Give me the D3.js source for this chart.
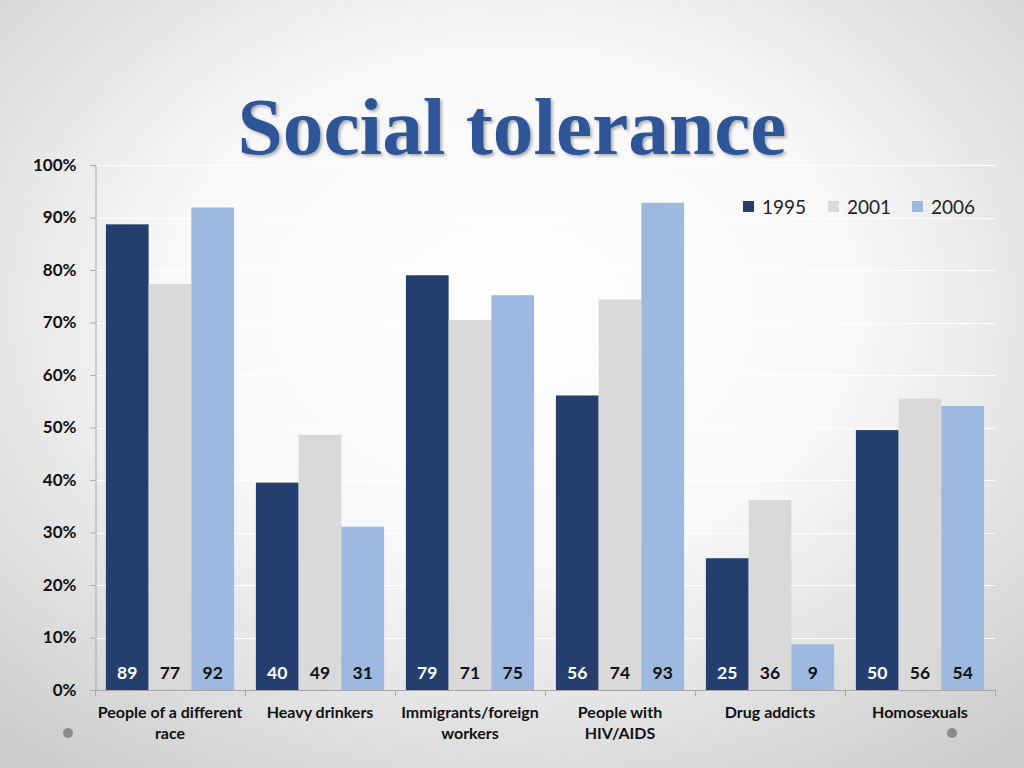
<!DOCTYPE html>
<html>
<head>
<meta charset="utf-8">
<script src="https://cdn.jsdelivr.net/npm/d3@7"></script>
<style>
  html, body { margin: 0; padding: 0; }
  body { width: 1024px; height: 768px; overflow: hidden; }
</style>
</head>
<body>
<svg id="chart" width="1024" height="768"></svg>
<script>
// ---- data ----
const categories = [
  ["People of a different", "race"],
  ["Heavy drinkers"],
  ["Immigrants/foreign", "workers"],
  ["People with", "HIV/AIDS"],
  ["Drug addicts"],
  ["Homosexuals"]
];
const seriesNames = ["1995", "2001", "2006"];
const values1995 = [88.7, 39.5, 79.0, 56.1, 25.1, 49.5];
const values2001 = [77.3, 48.6, 70.5, 74.4, 36.2, 55.5];
const values2006 = [91.9, 31.1, 75.2, 92.8, 8.7, 54.1];
const seriesColors = ["#243F6E", "#D9D9D9", "#9DB9E0"];
const labelColors = ["#FFFFFF", "#111111", "#111111"];
const yTicks = [0, 10, 20, 30, 40, 50, 60, 70, 80, 90, 100];
const titleText = "Social tolerance";

const seriesValues = [values1995, values2001, values2006];

const svg = d3.select("#chart");
const defs = svg.append("defs");

// background radial gradient
const bg = defs.append("radialGradient").attr("id", "bg")
  .attr("cx", "0.5").attr("cy", "0.4").attr("r", "0.75");
bg.append("stop").attr("offset", "0").attr("stop-color", "#FFFFFF");
bg.append("stop").attr("offset", "0.45").attr("stop-color", "#F8F8F8");
bg.append("stop").attr("offset", "1").attr("stop-color", "#CCCCCC");
svg.append("rect").attr("width", 1024).attr("height", 768).attr("fill", "url(#bg)");

// title shadow filter
const f = defs.append("filter").attr("id", "shadow").attr("x", "-10%").attr("y", "-20%").attr("width", "120%").attr("height", "140%");
f.append("feDropShadow").attr("dx", 2).attr("dy", 2).attr("stdDeviation", 1.5)
  .attr("flood-color", "#000").attr("flood-opacity", 0.3);

const margin = { left: 95, right: 995, top: 165, bottom: 690 };

const y = d3.scaleLinear().domain([0, 100]).range([margin.bottom, margin.top]);
const x0 = d3.scaleBand().domain(d3.range(categories.length)).range([margin.left, margin.right]).padding(0);
const x1 = d3.scaleBand().domain(d3.range(seriesNames.length)).range([0, x0.bandwidth()])
  .paddingInner(0).paddingOuter(0.255);

const sansFont = "Lato, 'Open Sans', sans-serif";

// gridlines (white)
svg.append("g").selectAll("line").data(yTicks.filter(d => d > 0)).join("line")
  .attr("x1", margin.left).attr("x2", margin.right)
  .attr("y1", d => Math.round(y(d)) + 0.5).attr("y2", d => Math.round(y(d)) + 0.5)
  .attr("stroke", "#FFFFFF").attr("stroke-width", 1.2);

// bars
const groups = svg.append("g").selectAll("g").data(categories.map((c, i) => i)).join("g")
  .attr("transform", i => `translate(${x0(i)},0)`);

groups.selectAll("rect").data(i => seriesValues.map((vals, s) => ({ s, v: vals[i] }))).join("rect")
  .attr("x", d => x1(d.s))
  .attr("width", x1.bandwidth())
  .attr("y", d => y(d.v))
  .attr("height", d => y(0) - y(d.v))
  .attr("fill", d => seriesColors[d.s]);

groups.selectAll("text").data(i => seriesValues.map((vals, s) => ({ s, v: vals[i] }))).join("text")
  .attr("x", d => x1(d.s) + x1.bandwidth() / 2)
  .attr("y", 679)
  .attr("text-anchor", "middle")
  .attr("font-family", sansFont)
  .attr("font-weight", "bold")
  .attr("font-size", 17.5)
  .attr("fill", d => labelColors[d.s])
  .text(d => Math.round(d.v));

// y axis
const yAxis = d3.axisLeft(y).tickValues(yTicks).tickFormat(d => d + "%").tickSize(5).tickPadding(14);
const gy = svg.append("g").attr("transform", `translate(${margin.left + 0.5},0)`).call(yAxis);
gy.select(".domain").attr("stroke", "#A6A6A6");
gy.selectAll(".tick line").attr("stroke", "#A6A6A6");
gy.selectAll(".tick text")
  .attr("font-family", sansFont)
  .attr("font-weight", "bold").attr("font-size", 17).attr("fill", "#111");

// x axis
const xEdges = d3.range(categories.length + 1).map(i => margin.left + i * x0.step());
const gx = svg.append("g");
gx.append("line").attr("x1", margin.left).attr("x2", margin.right)
  .attr("y1", margin.bottom + 0.5).attr("y2", margin.bottom + 0.5).attr("stroke", "#A6A6A6");
gx.selectAll("line.t").data(xEdges).join("line").attr("class", "t")
  .attr("x1", d => d + 0.5).attr("x2", d => d + 0.5)
  .attr("y1", margin.bottom).attr("y2", margin.bottom + 6).attr("stroke", "#A6A6A6");

const cat = svg.append("g").selectAll("text").data(categories.map((c, i) => ({ c, i }))).join("text")
  .attr("x", d => x0(d.i) + x0.bandwidth() / 2)
  .attr("y", 718)
  .attr("text-anchor", "middle")
  .attr("font-family", sansFont)
  .attr("font-weight", "bold").attr("font-size", 16).attr("fill", "#111");
cat.selectAll("tspan").data(d => d.c.map(line => ({ line, x: x0(d.i) + x0.bandwidth() / 2 }))).join("tspan")
  .attr("x", d => d.x)
  .attr("dy", (d, j) => j === 0 ? 0 : 21)
  .text(d => d.line);

// legend
const legendX = [743, 828, 912];
const lg = svg.append("g").selectAll("g").data(seriesNames.map((n, i) => ({ n, i }))).join("g")
  .attr("transform", d => `translate(${legendX[d.i]},201)`);
lg.append("rect").attr("width", 11).attr("height", 11).attr("fill", d => seriesColors[d.i]);
lg.append("text").attr("x", 19).attr("y", 13)
  .attr("font-family", sansFont)
  .attr("font-size", 19).attr("fill", "#222").text(d => d.n);

// title
const title = svg.append("text")
  .attr("x", 512).attr("y", 154)
  .attr("text-anchor", "middle")
  .attr("font-family", "'Liberation Serif', 'DejaVu Serif', serif")
  .attr("font-weight", "bold")
  .attr("font-size", 72)
  .attr("fill", "#2E5597")
  .attr("filter", "url(#shadow)")
  .text(titleText);
const w = title.node().getComputedTextLength();
title.attr("font-size", 72 * 549 / w);

// decorative dots
svg.append("g").selectAll("circle").data([68, 952]).join("circle")
  .attr("cx", d => d).attr("cy", 733).attr("r", 5).attr("fill", "#8A8A8A");
</script>
</body>
</html>
